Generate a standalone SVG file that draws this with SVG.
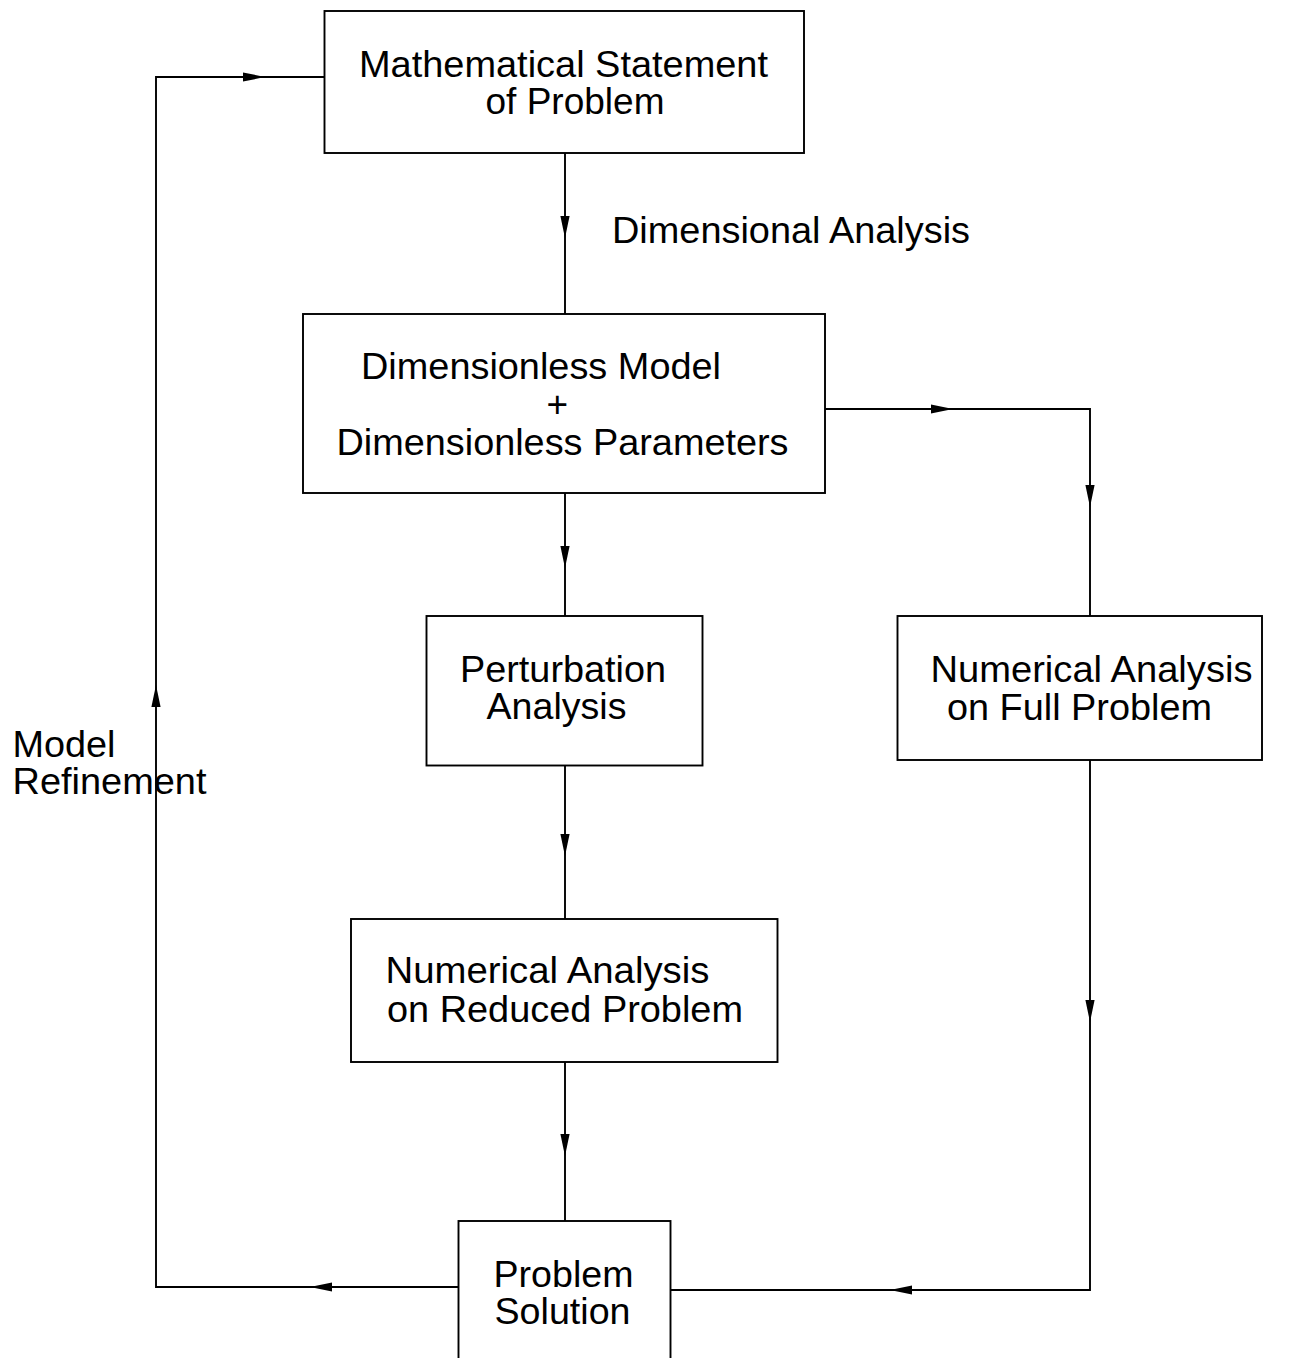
<svg xmlns="http://www.w3.org/2000/svg" xmlns:xlink="http://www.w3.org/1999/xlink" width="1295" height="1358" viewBox="0 0 1295 1358">
  <style>
    .box { fill: #ffffff; stroke: #000000; stroke-width: 1.9; }
    .wire { fill: none; stroke: #000000; stroke-width: 1.9; }
    .lbl { font-family: "Liberation Sans", Arial, Helvetica, sans-serif; font-size: 37px; fill: #000000; }
    .head { fill: #000000; stroke: none; }
  </style>
  <defs>
    <path id="ah" class="head" d="M0,0 L-22,-4.6 L-22,4.6 Z"/>
  </defs>
  <rect x="0" y="0" width="1295" height="1358" fill="#ffffff"/>

  <g id="connectors">
    <path class="wire" d="M565,153 L565,314"/>
    <use xlink:href="#ah" href="#ah" transform="translate(565,238) rotate(90)"/>
    <path class="wire" d="M565,493 L565,616"/>
    <use xlink:href="#ah" href="#ah" transform="translate(565,568) rotate(90)"/>
    <path class="wire" d="M565,765.5 L565,919"/>
    <use xlink:href="#ah" href="#ah" transform="translate(565,856) rotate(90)"/>
    <path class="wire" d="M565,1062 L565,1221"/>
    <use xlink:href="#ah" href="#ah" transform="translate(565,1156) rotate(90)"/>
    <path class="wire" d="M825,409 L1090,409 L1090,616"/>
    <use xlink:href="#ah" href="#ah" transform="translate(953,409)"/>
    <use xlink:href="#ah" href="#ah" transform="translate(1090,507) rotate(90)"/>
    <path class="wire" d="M1090,760 L1090,1290 L670.5,1290"/>
    <use xlink:href="#ah" href="#ah" transform="translate(1090,1022) rotate(90)"/>
    <use xlink:href="#ah" href="#ah" transform="translate(890,1290) rotate(180)"/>
    <path class="wire" d="M458.5,1287 L156,1287 L156,77 L324.5,77"/>
    <use xlink:href="#ah" href="#ah" transform="translate(310,1287) rotate(180)"/>
    <use xlink:href="#ah" href="#ah" transform="translate(156,685) rotate(-90)"/>
    <use xlink:href="#ah" href="#ah" transform="translate(265,77)"/>
  </g>

  <g id="node-statement">
    <rect class="box" x="324.5" y="11" width="479.5" height="142"/>
    <text class="lbl" x="359" y="77" textLength="409" lengthAdjust="spacingAndGlyphs">Mathematical Statement</text>
    <text class="lbl" x="485.5" y="114" textLength="179" lengthAdjust="spacingAndGlyphs">of Problem</text>
  </g>

  <g id="label-dimensional-analysis">
    <text class="lbl" x="612" y="243" textLength="358" lengthAdjust="spacingAndGlyphs">Dimensional Analysis</text>
  </g>

  <g id="node-dimensionless">
    <rect class="box" x="303" y="314" width="522" height="179"/>
    <text class="lbl" x="361" y="379" textLength="360" lengthAdjust="spacingAndGlyphs">Dimensionless Model</text>
    <text class="lbl" x="546.5" y="417">+</text>
    <text class="lbl" x="336.5" y="455" textLength="452" lengthAdjust="spacingAndGlyphs">Dimensionless Parameters</text>
  </g>

  <g id="node-perturbation">
    <rect class="box" x="426.5" y="616" width="276" height="149.5"/>
    <text class="lbl" x="460" y="682" textLength="206" lengthAdjust="spacingAndGlyphs">Perturbation</text>
    <text class="lbl" x="486.5" y="719" textLength="140" lengthAdjust="spacingAndGlyphs">Analysis</text>
  </g>

  <g id="node-numerical-full">
    <rect class="box" x="897.5" y="616" width="364.5" height="144"/>
    <text class="lbl" x="930.5" y="682" textLength="322" lengthAdjust="spacingAndGlyphs">Numerical Analysis</text>
    <text class="lbl" x="947" y="720" textLength="265" lengthAdjust="spacingAndGlyphs">on Full Problem</text>
  </g>

  <g id="node-numerical-reduced">
    <rect class="box" x="351" y="919" width="426.5" height="143"/>
    <text class="lbl" x="385.5" y="983" textLength="324" lengthAdjust="spacingAndGlyphs">Numerical Analysis</text>
    <text class="lbl" x="387" y="1022" textLength="356" lengthAdjust="spacingAndGlyphs">on Reduced Problem</text>
  </g>

  <g id="node-solution">
    <rect class="box" x="458.5" y="1221" width="212" height="170"/>
    <text class="lbl" x="493.5" y="1287" textLength="140" lengthAdjust="spacingAndGlyphs">Problem</text>
    <text class="lbl" x="494.5" y="1324" textLength="136" lengthAdjust="spacingAndGlyphs">Solution</text>
  </g>

  <g id="label-model-refinement">
    <text class="lbl" x="12.5" y="757" textLength="103" lengthAdjust="spacingAndGlyphs">Model</text>
    <text class="lbl" x="12.5" y="794" textLength="194" lengthAdjust="spacingAndGlyphs">Refinement</text>
  </g>
</svg>
